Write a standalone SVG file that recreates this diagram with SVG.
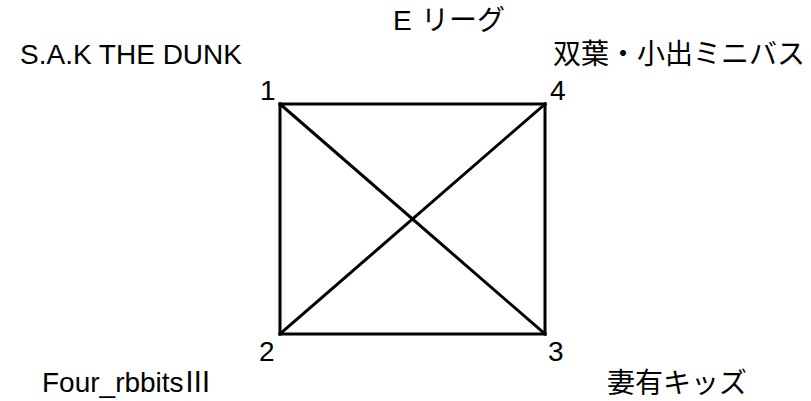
<svg xmlns="http://www.w3.org/2000/svg" width="811" height="401" viewBox="0 0 811 401">
<style>
  .t { font-family: "Liberation Sans", "Noto Sans CJK JP", sans-serif; font-size: 28px; fill: #000; }
  .j { font-family: "Noto Sans CJK JP", "Liberation Sans", sans-serif; font-size: 28px; fill: #000; }
  .e { stroke: #000; stroke-width: 3; fill: none; stroke-linecap: square; }
</style>
<rect width="811" height="401" fill="#fff"/>
<g id="title">
  <text class="t" x="393" y="30" font-size="22">E <tspan class="j" x="421" font-size="23">リーグ</tspan></text>
</g>
<g id="connectors">
  <line class="e" x1="280" y1="104" x2="545" y2="104"/>
  <line class="e" x1="280" y1="104" x2="280" y2="334"/>
  <line class="e" x1="280" y1="334" x2="545" y2="334"/>
  <line class="e" x1="545" y1="104" x2="545" y2="334"/>
  <line class="e" x1="280" y1="104" x2="545" y2="334"/>
  <line class="e" x1="280" y1="334" x2="545" y2="104"/>
</g>
<g id="node1">
  <text class="t" x="260" y="100">1</text>
  <text class="t" x="20" y="64" font-size="30" textLength="222" lengthAdjust="spacingAndGlyphs">S.A.K THE DUNK</text>
</g>
<g id="node2">
  <text class="t" x="259" y="361">2</text>
  <text class="t" x="42" y="392">Four_rbbits<tspan class="j">Ⅲ</tspan></text>
</g>
<g id="node3">
  <text class="t" x="548" y="361">3</text>
  <text class="j" x="607" y="393">妻有キッズ</text>
</g>
<g id="node4">
  <text class="t" x="550" y="100">4</text>
  <text class="j" x="553" y="64">双葉・小出ミニバス</text>
</g>
</svg>
